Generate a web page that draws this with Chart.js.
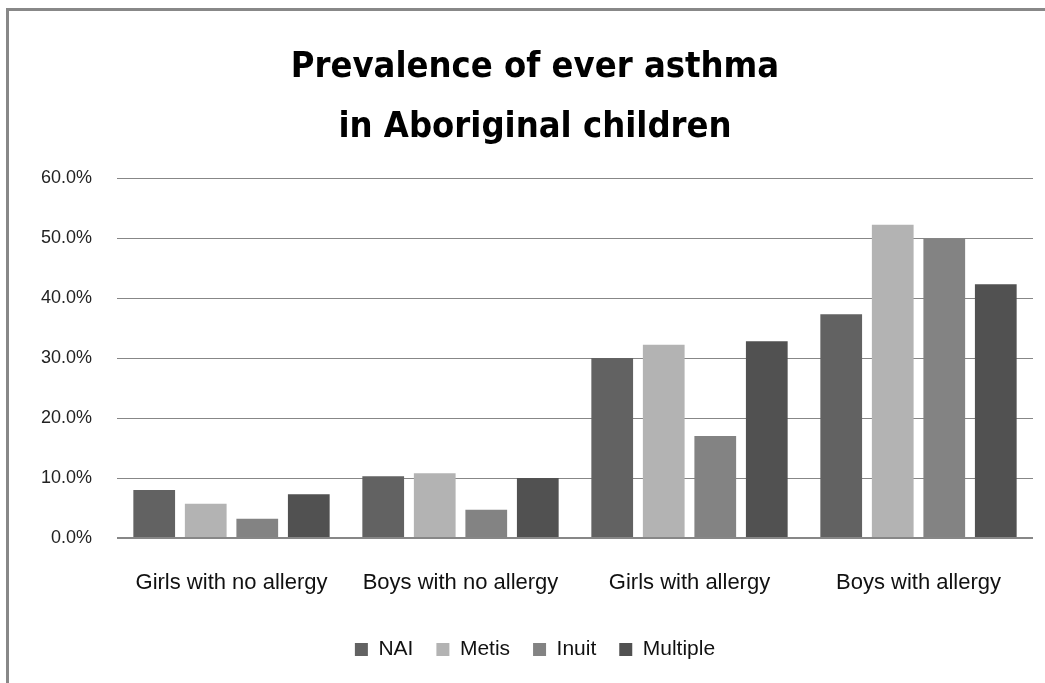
<!DOCTYPE html>
<html>
<head>
<meta charset="utf-8">
<script src="https://cdn.jsdelivr.net/npm/chart.js@4.4.1/dist/chart.umd.min.js"></script>
<style>
    html, body { margin: 0; padding: 0; background: #fff; overflow: hidden; }
    #marco {
        position: absolute; left: 6px; top: 8px; width: 1100px; height: 700px;
        border-top: 3px solid #888; border-left: 3px solid #888;
    }
    #caja { position: absolute; left: 0; top: 0; width: 1045px; height: 683px; }
</style>
</head>
<body>
<div id="marco"></div>
<div id="caja"><canvas id="myChart"></canvas></div>
<script>
// Datos (porcentaje)
const categorias = ['Girls with no allergy', 'Boys with no allergy', 'Girls with allergy', 'Boys with allergy'];
const nai = [8.0, 10.3, 30.0, 37.3];
const metis = [5.7, 10.8, 32.2, 52.2];
const inuit = [3.2, 4.7, 17.0, 49.9];
const multiple = [7.3, 10.0, 32.8, 42.3];
const yTicks = [0, 10, 20, 30, 40, 50, 60];

const fuente = "'Liberation Sans', Arial, sans-serif";

function crearBarChart() {
    const ctx = document.getElementById('myChart').getContext('2d');
    new Chart(ctx, {
        type: 'bar',
        data: {
            labels: categorias,
            datasets: [
                { label: 'NAI', data: nai, backgroundColor: '#626262' },
                { label: 'Metis', data: metis, backgroundColor: '#b3b3b3' },
                { label: 'Inuit', data: inuit, backgroundColor: '#838383' },
                { label: 'Multiple', data: multiple, backgroundColor: '#515151' }
            ]
        },
        options: {
            responsive: true,
            maintainAspectRatio: false,
            animation: false,
            layout: { padding: { left: 37, right: 12, top: 0, bottom: 13 } },
            datasets: { bar: { categoryPercentage: 0.9, barPercentage: 0.81 } },
            scales: {
                x: {
                    grid: { display: false },
                    border: { display: false },
                    afterFit: (scale) => { scale.height = 78; },
                    ticks: { color: '#111', padding: 24, font: { family: fuente, size: 22 } }
                },
                y: {
                    min: 0,
                    max: 60,
                    afterBuildTicks: (scale) => { scale.ticks = yTicks.map(v => ({ value: v })); },
                    afterFit: (scale) => { scale.width = 80; },
                    border: { display: false },
                    grid: {
                        color: '#878787',
                        lineWidth: (c) => c.tick && c.tick.value === 0 ? 2 : 1,
                        drawTicks: false
                    },
                    ticks: {
                        color: '#222',
                        padding: 25,
                        font: { family: fuente, size: 18 },
                        callback: (v) => v.toFixed(1) + '%'
                    }
                }
            },
            plugins: {
                legend: {
                    position: 'bottom',
                    labels: {
                        boxWidth: 13,
                        boxHeight: 13,
                        padding: 23,
                        color: '#111',
                        font: { family: fuente, size: 21 }
                    }
                },
                title: {
                    display: true,
                    text: ['Prevalence of ever asthma', 'in Aboriginal children'],
                    color: '#000',
                    font: { family: "'DejaVu Sans Condensed', " + fuente, size: 36, weight: 'bold', lineHeight: 1.667 },
                    padding: { top: 38, bottom: 20 }
                },
                tooltip: { enabled: false }
            }
        }
    });
}

crearBarChart();
</script>
</body>
</html>
